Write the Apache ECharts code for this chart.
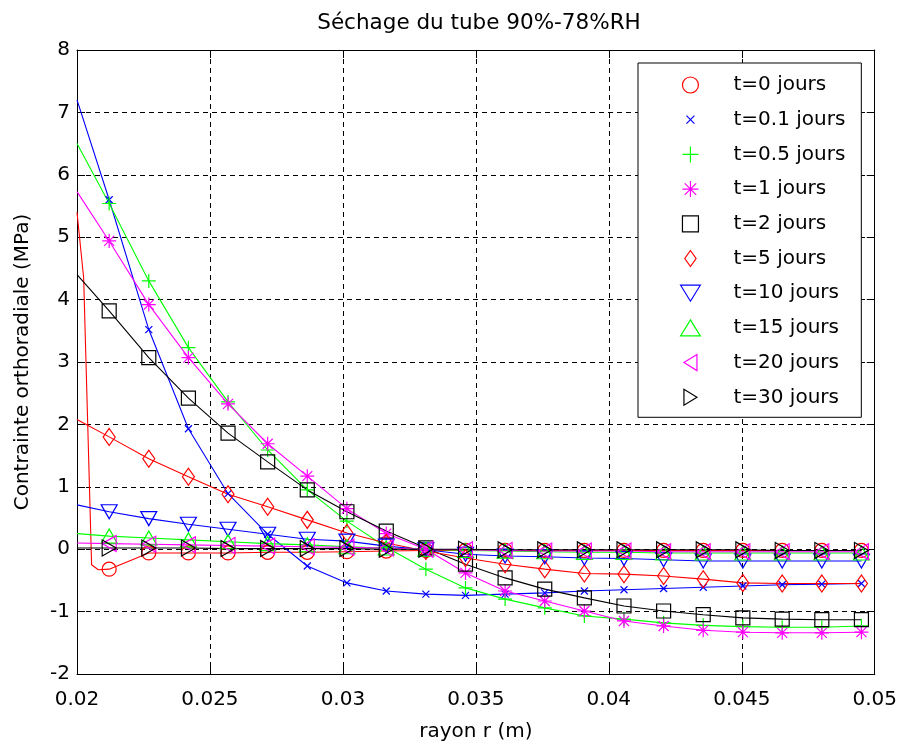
<!DOCTYPE html>
<html><head><meta charset="utf-8">
<script src="https://cdn.jsdelivr.net/npm/echarts@6/dist/echarts.min.js"></script>
<style>html,body{margin:0;padding:0;background:#fff}#c{width:900px;height:747px}</style>
</head><body><div id="c"></div>
<script>
// ---- data ----
const R = [0.02121,0.0227,0.02419,0.02568,0.02717,0.02866,0.03015,0.03163,0.03312,0.03461,0.0361,0.03759,0.03908,0.04057,0.04206,0.04355,0.04504,0.04652,0.04801,0.0495];
const R_START = 0.02;
const NAMES = ['t=0 jours','t=0.1 jours','t=0.5 jours','t=1 jours','t=2 jours','t=5 jours','t=10 jours','t=15 jours','t=20 jours','t=30 jours'];
const START = [5.4,7.2,6.5,5.73,4.4,2.08,0.71,0.25,0.1,0.02];
const T0_STEP_R = [0.02025,0.02055,0.0208];
const T0_STEP_V = [4.35,-0.25,-0.33];
const V_T0   = [-0.32,-0.06,-0.06,-0.06,-0.05,-0.05,-0.04,-0.03,-0.02,-0.02,-0.02,-0.02,-0.02,-0.02,-0.02,-0.02,-0.02,-0.02,-0.02,-0.02];
const V_T01  = [5.6,3.52,1.93,0.89,0.24,-0.27,-0.54,-0.67,-0.72,-0.74,-0.72,-0.70,-0.67,-0.65,-0.63,-0.61,-0.59,-0.57,-0.56,-0.55];
const V_T05  = [5.54,4.3,3.23,2.36,1.59,0.95,0.45,0.03,-0.32,-0.62,-0.8,-0.94,-1.07,-1.12,-1.18,-1.22,-1.24,-1.25,-1.25,-1.23];
const V_T1   = [4.94,3.92,3.07,2.33,1.69,1.17,0.65,0.25,0.0,-0.38,-0.67,-0.83,-0.99,-1.15,-1.23,-1.3,-1.33,-1.34,-1.34,-1.33];
const V_T2   = [3.82,3.07,2.42,1.86,1.4,0.95,0.6,0.29,0.02,-0.24,-0.46,-0.64,-0.78,-0.91,-0.99,-1.05,-1.1,-1.12,-1.13,-1.13];
const V_T5   = [1.8,1.45,1.16,0.88,0.68,0.47,0.26,0.1,-0.03,-0.14,-0.24,-0.32,-0.39,-0.4,-0.43,-0.48,-0.54,-0.55,-0.55,-0.55];
const V_T10  = [0.6,0.49,0.4,0.32,0.24,0.16,0.13,0.05,-0.01,-0.08,-0.11,-0.12,-0.14,-0.15,-0.17,-0.19,-0.19,-0.19,-0.19,-0.19];
const V_T15  = [0.21,0.18,0.15,0.12,0.09,0.07,0.04,0.02,0.0,-0.02,-0.03,-0.04,-0.05,-0.05,-0.06,-0.06,-0.06,-0.06,-0.06,-0.06];
const V_T20  = [0.09,0.08,0.07,0.06,0.05,0.04,0.03,0.02,0.0,-0.01,-0.02,-0.03,-0.03,-0.03,-0.04,-0.04,-0.04,-0.04,-0.04,-0.04];
const V_T30  = [0.02,0.02,0.02,0.01,0.01,0.01,0.01,0.0,0.0,0.0,-0.01,-0.01,-0.01,-0.01,-0.01,-0.01,-0.01,-0.02,-0.02,-0.02];
const VALUES = [V_T0,V_T01,V_T05,V_T1,V_T2,V_T5,V_T10,V_T15,V_T20,V_T30];

// ---- styling ----
const COLORS = ['#ff0000','#0000ff','#00ff00','#ff00ff','#000000','#ff0000','#0000ff','#00ff00','#ff00ff','#000000'];
const SYMBOLS = [
  'path://M7,0A7,7 0 1 1 6.99,0Z',
  'path://M0,0M14,14M3.5,3.5L10.5,10.5M10.5,3.5L3.5,10.5',
  'path://M7,0L7,14M0,7L14,7',
  'path://M7,0L7,14M0,7L14,7M2,2L12,12M12,2L2,12',
  'path://M0,0L14,0L14,14L0,14Z',
  'path://M6,0L12,8.5L6,17L0,8.5Z',
  'path://M0,1L16,1L8,14Z',
  'path://M8,0L16,13L0,13Z',
  'path://M14,0L14,16L1,8Z',
  'path://M1,0L1,16L14,8Z'
];
const SIZES = [[14,14],[14,14],[14,14],[14,14],[14,14],[12,17],[16,14],[16,14],[14,16],[14,16]];
const FONT = 'DejaVu Sans';

const series = NAMES.map((name, i) => {
  const data = [{value:[R_START, START[i]], symbol:'none'}];
  if (i === 0) {
    T0_STEP_R.forEach((r, j) => data.push({value:[r, T0_STEP_V[j]], symbol:'none'}));
  }
  R.forEach((r, k) => data.push([r, VALUES[i][k]]));
  return {
    name, type:'line', data, symbol: SYMBOLS[i], symbolSize: SIZES[i], showSymbol:true,
    xAxisIndex:0, yAxisIndex:0,
    lineStyle:{color:COLORS[i], width:1.1},
    itemStyle:{color:'rgba(0,0,0,0)', borderColor:COLORS[i], borderWidth:1.2},
    emphasis:{disabled:true}, animation:false, z: 3
  };
});

const axisCommon = {
  axisLine:{show:true, onZero:false, lineStyle:{color:'#000', width:1}},
  axisTick:{show:true, inside:true, length:8, lineStyle:{color:'#000'}},
};

const chart = echarts.init(document.getElementById('c'), null, {renderer:'canvas'});
chart.setOption({
  animation:false,
  backgroundColor:'#fff',
  title:{text:'Séchage du tube 90%-78%RH', left:474, textAlign:'center', top:7,
    textStyle:{fontFamily:FONT, fontSize:21.5, fontWeight:'normal', color:'#000'}},
  grid:{left:77, right:24, top:50, bottom:65, containLabel:false},
  xAxis:[
    Object.assign({type:'value', min:0.02, max:0.05, interval:0.005, position:'bottom',
      name:'rayon r (m)', nameLocation:'middle', nameGap:48,
      nameTextStyle:{fontFamily:FONT, fontSize:20, color:'#000'},
      axisLabel:{fontFamily:FONT, fontSize:20, color:'#000', margin:16},
      splitLine:{show:true, lineStyle:{color:'#000', type:[5,4], width:1}}}, axisCommon),
    Object.assign({type:'value', min:0.02, max:0.05, interval:0.005, position:'top',
      axisLabel:{show:false}, splitLine:{show:false}}, axisCommon)
  ],
  yAxis:[
    Object.assign({type:'value', min:-2, max:8, interval:1, position:'left',
      name:'Contrainte orthoradiale (MPa)', nameLocation:'middle', nameGap:44,
      nameTextStyle:{fontFamily:FONT, fontSize:20, color:'#000'},
      axisLabel:{fontFamily:FONT, fontSize:20, color:'#000', margin:7},
      splitLine:{show:true, lineStyle:{color:'#000', type:[5,4], width:1}}}, axisCommon),
    Object.assign({type:'value', min:-2, max:8, interval:1, position:'right',
      axisLabel:{show:false}, splitLine:{show:false}}, axisCommon)
  ],
  legend:{
    orient:'vertical', left:638, top:63,
    backgroundColor:'#fff', borderColor:'#000', borderWidth:1,
    padding:[12,16,10,42], itemWidth:76, itemHeight:16, itemGap:14.7,
    symbolKeepAspect:true, selectedMode:false,
    textStyle:{fontFamily:FONT, fontSize:20, color:'#000', lineHeight:20},
    data: NAMES.map((n, i) => ({name:n, icon:SYMBOLS[i],
      itemStyle:{color:'rgba(0,0,0,0)', borderColor:COLORS[i], borderWidth:1.2}}))
  },
  series
});
</script>
</body></html>
